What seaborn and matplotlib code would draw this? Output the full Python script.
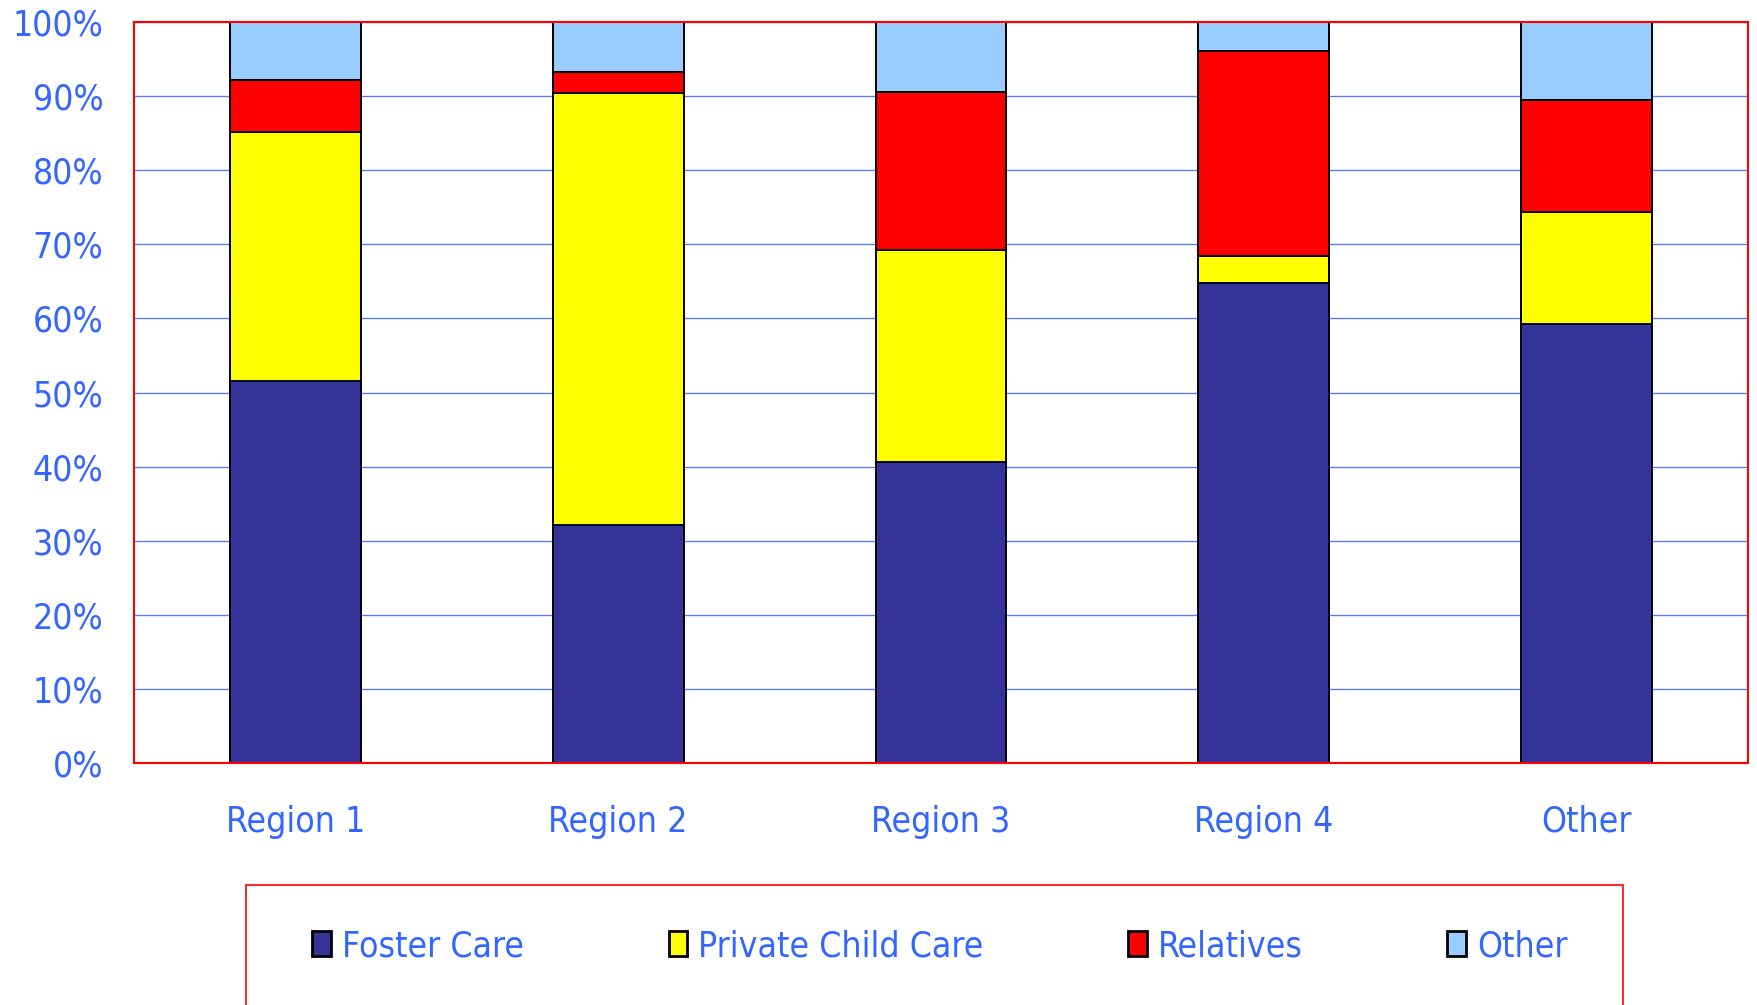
import matplotlib
matplotlib.use("Agg")
import matplotlib.pyplot as plt
import numpy as np
import seaborn as sns
from matplotlib.patches import Rectangle
from matplotlib.ticker import PercentFormatter, FixedLocator

# data (percent of placements per region)
regions = ["Region 1", "Region 2", "Region 3", "Region 4", "Other"]
series_names = ["Foster Care", "Private Child Care", "Relatives", "Other"]
foster_care = [51.5, 32.1, 40.6, 64.8, 59.2]
private_child_care = [33.7, 58.3, 28.6, 3.6, 15.1]
relatives = [7.0, 2.9, 21.3, 27.7, 15.2]
other = [7.8, 6.7, 9.5, 3.9, 10.5]

COLORS = ["#333399", "#FFFF00", "#FF0000", "#99CCFF"]
TEXT_BLUE = "#3366FF"
FRAME_RED = "#FF0000"
GRID_BLUE = "#5C7CFA"

sns.set_style("white")
plt.rcParams["font.family"] = ["DejaVu Sans"]
plt.rcParams["font.stretch"] = "condensed"

fig = plt.figure(figsize=(17.58, 10.05), dpi=100)
ax = fig.add_axes([0.0762, 0.2408, 0.9181, 0.7373])

bottom = np.zeros(len(regions))
for name, vals, color in zip(series_names, [foster_care, private_child_care, relatives, other], COLORS):
    sns.barplot(
        x=regions,
        y=vals,
        bottom=bottom,
        color=color,
        saturation=1,
        width=0.405,
        edgecolor="black",
        linewidth=1.4,
        label=name,
        ax=ax,
    )
    bottom += np.array(vals)

handles, labels = ax.get_legend_handles_labels()
if ax.get_legend() is not None:
    ax.get_legend().remove()

ax.set_ylim(0, 100)
ax.set_xlim(-0.5, len(regions) - 0.5)
ax.yaxis.set_major_locator(FixedLocator(np.arange(0, 101, 10)))
ax.yaxis.set_major_formatter(PercentFormatter(100, decimals=0))
ax.grid(axis="y", color=GRID_BLUE, linewidth=1.0)
ax.set_axisbelow(True)

# category labels on minor ticks, red separators on major ticks
ax.set_xticks(np.arange(-0.5, len(regions), 1.0))
ax.set_xticklabels([])
ax.set_xticks(np.arange(len(regions)), minor=True)
ax.set_xticklabels(regions, minor=True)
ax.tick_params(axis="x", which="major", direction="out", length=9, width=1.5, color=FRAME_RED)
ax.tick_params(axis="x", which="minor", length=0, pad=30, labelsize=25.5, labelcolor=TEXT_BLUE)
ax.tick_params(axis="y", length=0, pad=22, labelsize=25.5, labelcolor=TEXT_BLUE)
ax.set_xlabel("")
ax.set_ylabel("")

for spine in ax.spines.values():
    spine.set_visible(True)
    spine.set_color(FRAME_RED)
    spine.set_linewidth(1.5)

leg = fig.legend(
    handles,
    labels,
    loc="center",
    bbox_to_anchor=(0.5347, 0.0587),
    ncol=4,
    fontsize=25.5,
    frameon=False,
    borderpad=0,
    handlelength=0.52,
    handleheight=0.72,
    handletextpad=0.32,
    columnspacing=4.08,
    labelcolor=TEXT_BLUE,
)
for patch in leg.get_patches():
    patch.set_linewidth(2)

# legend box runs off the bottom edge like in the original
fig.patches.append(
    Rectangle(
        (0.1397, -0.05),
        0.9232 - 0.1397,
        0.1199 + 0.05,
        transform=fig.transFigure,
        fill=False,
        edgecolor=FRAME_RED,
        linewidth=1.2,
    )
)

fig.savefig("out.png", dpi=100, facecolor="white")
